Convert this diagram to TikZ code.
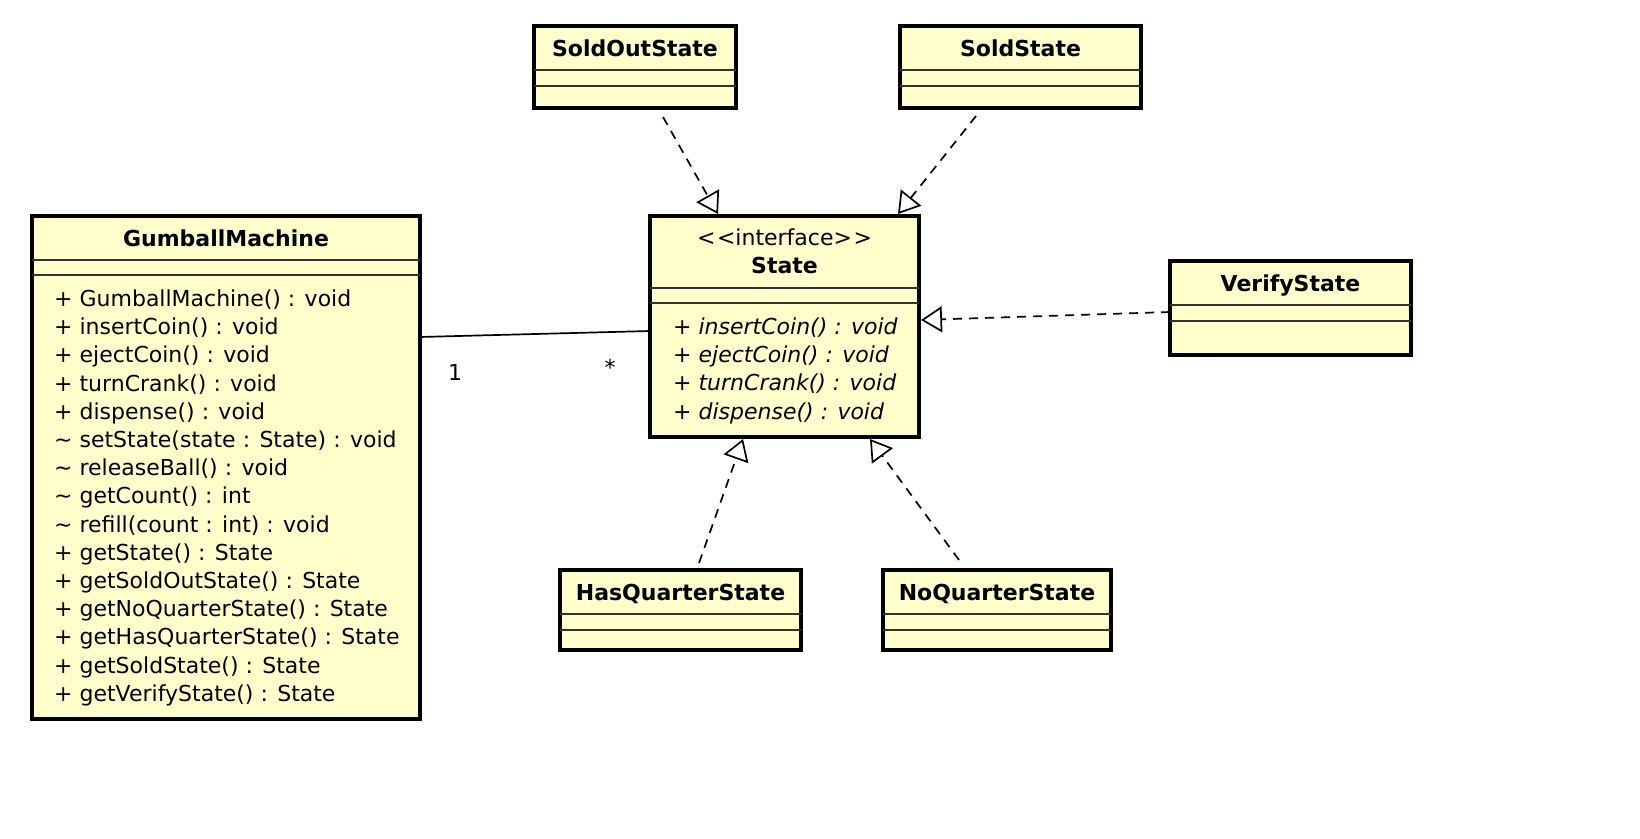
\documentclass[tikz,border=0pt]{standalone}
\usepackage{fontspec}
\setmainfont{DejaVu Sans}
\usetikzlibrary{arrows.meta,calc}
\definecolor{umlfill}{RGB}{255,255,204}
\begin{document}
\begin{tikzpicture}[x=1pt,y=-1pt,
  font=\fontsize{22pt}{26pt}\selectfont,
  classbox/.style n args={2}{draw=black, line width=4pt, fill=umlfill,
    inner sep=0pt, outer sep=0pt, anchor=north west,
    minimum width=#1, minimum height=#2},
  sepline/.style={draw=black!80, line width=1.4pt},
  classname/.style={font=\fontsize{22pt}{26pt}\selectfont\bfseries, anchor=base, inner sep=0pt},
  stereo/.style={anchor=base, inner sep=0pt},
  member/.style={anchor=base west, inner sep=0pt},
  opmember/.style={member, font=\fontsize{22pt}{26pt}\selectfont\itshape},
  mult/.style={anchor=base, inner sep=0pt},
  assoc/.style={draw=black, line width=1.7pt},
  realize/.style={draw=black, line width=1.7pt, dash pattern=on 9pt off 7pt,
    -{Triangle[open, length=21pt, width=26pt, line width=1.7pt]}}
]
% canvas
\useasboundingbox (0,0) rectangle (1640,838);
\fill[white] (0,0) rectangle (1640,838);

% ---- GumballMachine ----
\node[classbox={388pt}{503pt}] (gm) at (32,216) {};
\draw[sepline] ($(gm.north west)+(0,44)$) -- ($(gm.north east)+(0,44)$);
\draw[sepline] ($(gm.north west)+(0,59)$) -- ($(gm.north east)+(0,59)$);
\node[classname] (gmT) at ($(gm.north)+(0,30.5)$) {GumballMachine};
\foreach \txt [count=\i] in {
  {+ GumballMachine() : void},
  {+ insertCoin() : void},
  {+ ejectCoin() : void},
  {+ turnCrank() : void},
  {+ dispense() : void},
  {\textasciitilde\ setState(state : State) : void},
  {\textasciitilde\ releaseBall() : void},
  {\textasciitilde\ getCount() : int},
  {\textasciitilde\ refill(count : int) : void},
  {+ getState() : State},
  {+ getSoldOutState() : State},
  {+ getNoQuarterState() : State},
  {+ getHasQuarterState() : State},
  {+ getSoldState() : State},
  {+ getVerifyState() : State}}
  \node[member] (gm-m\i) at (54, {306.5+28.2*(\i-1)}) {\txt};

% ---- State interface ----
\node[classbox={269pt}{221pt}] (st) at (650,216) {};
\draw[sepline] ($(st.north west)+(0,72)$) -- ($(st.north east)+(0,72)$);
\draw[sepline] ($(st.north west)+(0,87)$) -- ($(st.north east)+(0,87)$);
\node[stereo] (stS) at ($(st.north)+(0,29)$) {<\kern1.5pt<interface>\kern1.5pt>};
\node[classname] (stT) at ($(st.north)+(0,57)$) {State};
\foreach \txt [count=\i] in {
  {+ insertCoin() : void},
  {+ ejectCoin() : void},
  {+ turnCrank() : void},
  {+ dispense() : void}}
  \node[opmember] (st-m\i) at (673, {334.5+28.2*(\i-1)}) {\txt};

% ---- implementing classes ----
\node[classbox={202pt}{82pt}] (soldout) at (534,26) {};
\node[classbox={241pt}{82pt}] (sold) at (900,26) {};
\node[classbox={241pt}{94pt}] (verify) at (1170,261) {};
\node[classbox={241pt}{80pt}] (hasq) at (560,570) {};
\node[classbox={228pt}{80pt}] (noq) at (883,570) {};

\foreach \b/\t in {soldout/SoldOutState, sold/SoldState, verify/VerifyState,
                   hasq/HasQuarterState, noq/NoQuarterState} {
  \draw[sepline] ($(\b.north west)+(0,44)$) -- ($(\b.north east)+(0,44)$);
  \draw[sepline] ($(\b.north west)+(0,60)$) -- ($(\b.north east)+(0,60)$);
  \node[classname] (\b T) at ($(\b.north)+(0,30.5)$) {\t};
}

% ---- association GumballMachine -- State ----
\draw[assoc] ($(gm.north east)+(0,121)$) -- ($(st.north west)+(0,115)$);
\node[mult] (mOne) at (455,380) {1};
\node[mult] (mMany) at (610,375) {*};

% ---- realizations ----
\draw[realize] ($(soldout.south west)+(129,9)$) -- ($(st.north west)+(68,-2)$);
\draw[realize] ($(sold.south west)+(76,8)$) -- ($(st.north west)+(248,-2)$);
\draw[realize] ($(verify.north west)+(0,51)$) -- ($(st.north east)+(2,104)$);
\draw[realize] ($(hasq.north west)+(139,-7)$) -- ($(st.south west)+(93,2)$);
\draw[realize] ($(noq.north west)+(76,-10)$) -- ($(st.south west)+(220,2)$);
\end{tikzpicture}
\end{document}
